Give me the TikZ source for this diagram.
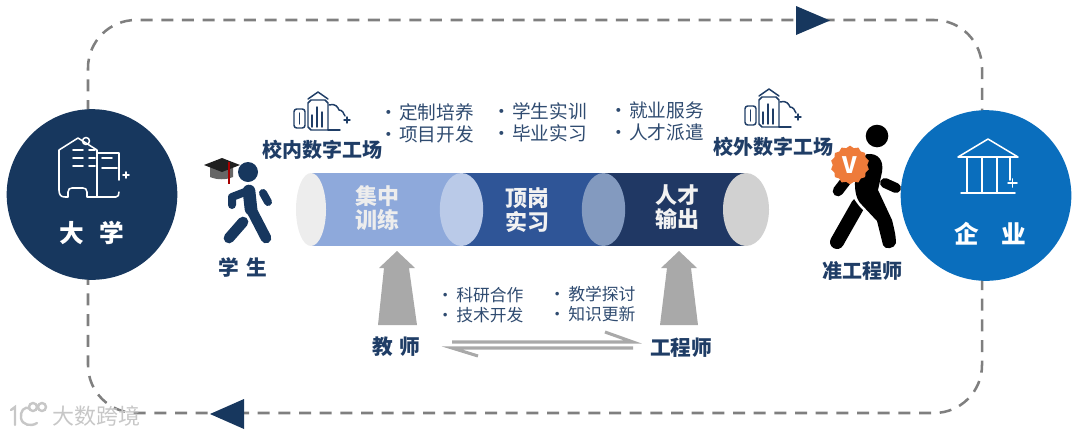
\documentclass[tikz,border=0pt]{standalone}
\usepackage{fontspec}
\setmainfont{Noto Sans CJK SC}
\usetikzlibrary{shapes.geometric}
\definecolor{navy}{HTML}{17375E}
\definecolor{bizblue}{HTML}{0A6EBD}
\definecolor{labelblue}{HTML}{1F3D66}
\definecolor{itemblue}{HTML}{2F4B70}
\definecolor{arrowgrey}{HTML}{A9A9A9}
\definecolor{dashgrey}{HTML}{7F7F7F}
\definecolor{segone}{HTML}{8EA9DB}
\definecolor{segtwo}{HTML}{2F5597}
\definecolor{segthree}{HTML}{203864}
\definecolor{captwo}{HTML}{BACAE8}
\definecolor{capthree}{HTML}{839ABF}
\definecolor{badgeorange}{HTML}{EE7B3A}
\newcommand{\fsz}[1]{\fontsize{#1}{#1}\selectfont}
\newcommand{\itm}[1]{\makebox[10.5pt][l]{\hspace{-4pt}•}#1}
\newcommand{\dataicon}[2]{%
  \begin{scope}[shift={(#1,#2)}, iconline]
    \draw (308,99) -- (318,92) -- (328,99);
    \draw (328,130) -- (311,130) -- (308,127) -- (308,103) -- (311,100) -- (325,100) -- (328,103) -- (328,130);
    \draw[rounded corners=2pt] (294,109) rectangle (305,128);
    \draw (299.5,113) -- (299.5,124);
    \draw (312,115) -- (312,127);
    \draw (317,107) -- (317,127);
    \draw (322,112) -- (322,127);
    \draw (329,105) .. controls (335,103) and (338,107) .. (339,110) .. controls (342,110) and (344,113) .. (345,116);
    \draw (328,130) -- (340,130);
    \draw (344,120) -- (350,120) (347,117) -- (347,123);
  \end{scope}}
\begin{document}
\begin{tikzpicture}[
  x=0.75pt, y=-0.75pt,
  round/.style={circle, fill=#1, minimum size=128pt, inner sep=0pt, outer sep=0pt},
  cap/.style={ellipse, fill=#1, minimum height=54.75pt, inner sep=0pt, outer sep=0pt},
  loopline/.style={dashgrey, line width=1.9pt, dash pattern=on 9pt off 6.5pt, rounded corners=36pt},
  title/.style={font=\bfseries\fsz{15}, text=labelblue, inner sep=0pt},
  items/.style={font=\fsz{14}, text=itemblue, align=left, anchor=west, inner sep=0pt},
  smallitems/.style={font=\fsz{12.6}, text=itemblue, align=left, anchor=west, inner sep=0pt},
  tubetext/.style={font=\bfseries\fsz{16.5}, align=center, inner sep=0pt},
  circtext/.style={font=\bfseries\fsz{18.5}, text=white, inner sep=0pt},
  iconline/.style={labelblue, line width=1.1pt, line cap=round, line join=round},
  whiteline/.style={white, line width=1.15pt, line cap=round, line join=round},
  harp/.style={arrowgrey, line width=2.3pt, line join=miter},
  limb/.style={line cap=round, line join=round}
]
\useasboundingbox (0,0) rectangle (1080,436);

\coordinate (ltop) at (88,112);
\coordinate (lbot) at (88,278);
\coordinate (rtop) at (982,112);
\coordinate (rbot) at (982,278);
\draw[loopline] (ltop) -- (88,20) -- (982,20) -- (rtop);
\draw[loopline] (rbot) -- (982,413) -- (88,413) -- (lbot);
\fill[navy] (796,6) -- (830,20.5) -- (796,35) -- cycle;
\fill[navy] (210,414) -- (244,399) -- (244,429) -- cycle;

\node[round=navy] (univ) at (92,194.5) {};
\node[round=bizblue] (ent) at (986,195.5) {};
\node[circtext] (univtext) at (92,233) {大\hspace{0.65em}学};
\node[circtext] (enttext) at (990,234) {企\hspace{0.9em}业};

\begin{scope}[whiteline]
  \draw (59,190) -- (59,150) -- (78,138) -- (97,150) -- (97,197);
  \draw (59,190) .. controls (59,195) and (61,197) .. (65,197) -- (68,197) -- (68,192) .. controls (68,189) and (70,188) .. (72,188) -- (83,188) .. controls (85,188) and (87,189) .. (87,192) -- (87,197) -- (116,197) .. controls (118,197) and (119,195) .. (119,192);
  \draw (86,141) circle (3.5);
  \draw (97,153) -- (119,153) -- (119,180);
  \draw (73,150) -- (83,150) (89,150) -- (95,150);
  \draw (73,158) -- (83,158) (89,158) -- (95,158);
  \draw (73,166) -- (83,166) (89,166) -- (95,166);
  \draw (102,158) -- (112,158) (102,168) -- (117,168);
  \draw (123,175) -- (129,175) (126,172) -- (126,178);
  \draw (958,157) -- (988,139) -- (1018,157) -- cycle;
  \draw (967,157) -- (967,192) (982,157) -- (982,192) (997,157) -- (997,192);
  \draw (1010,157) -- (1010,180);
  \draw (961,193) -- (1015,193);
  \draw (1008,183) -- (1017,183) (1012.5,179) -- (1012.5,187);
\end{scope}

\dataicon{0}{0}
\dataicon{451}{-3}
\node[title] (campus) at (322,150) {校内数字工场};
\node[title] (outside) at (773,147) {校外数字工场};
\node[items] (train) at (385,123) {\itm{定制培养}\\[2.5pt]\itm{项目开发}};
\node[items] (intern) at (498,122) {\itm{学生实训}\\[2.5pt]\itm{毕业实习}};
\node[items] (jobs) at (615,121) {\itm{就业服务}\\[2.5pt]\itm{人才派遣}};

\fill[navy] (248,172) circle (10);
\draw[navy, limb, line width=9.5pt] (249,191) -- (251,209);
\draw[navy, limb, line width=8pt] (251,209) -- (266,238);
\draw[navy, line cap=round, line width=8pt] (243,222) -- (229,238);
\draw[navy, limb, line width=6pt] (245,192) -- (232,197) -- (232,205);
\draw[navy, limb, line width=6pt] (263,193) -- (268,202);
\fill[black!60] (210,166) -- (233,166) -- (233,177) .. controls (226,180) and (217,180) .. (210,177) -- cycle;
\fill[black!88] (204,165) -- (222,158) -- (240,165) -- (222,172) -- cycle;
\draw[red!65!black, line width=1pt] (229,162) -- (229,184);
\node[title, font=\bfseries\fsz{15.5}] (student) at (243,267) {学\hspace{0.35em}生};

\fill[black] (877,136) circle (11.3);
\draw[black, limb, line width=10.5pt] (858,205) -- (837,242);
\draw[white, line width=4pt] (852,190) .. controls (856,197) and (860,204) .. (866,209);
\fill[black] (867,154) .. controls (878,153) and (884,160) .. (882,172) -- (878,190) -- (892,220) .. controls (894,228) and (896,236) .. (896,243) .. controls (895,249) and (884,250) .. (883,245) -- (877,221) -- (862,205) .. controls (851,196) and (853,165) .. (867,154) -- cycle;
\draw[black, limb, line width=7.5pt] (885,183) -- (896,188);
\draw[black, limb, line width=8pt] (838,191) -- (848,178);
\node[star, star points=14, star point ratio=1.12, fill=badgeorange, minimum size=29pt, inner sep=0pt, text=white, font=\bfseries\fsz{17}] (badge) at (850,165) {V};
\node[title] (preeng) at (862,271) {准工程师};

\fill[segone] (311,173) rectangle (461.5,246);
\fill[segtwo] (461.5,173) rectangle (603.5,246);
\fill[segthree] (603.5,173) rectangle (746,246);
\node[cap={black!7}, minimum width=22.5pt] (capa) at (311,209.5) {};
\node[cap=captwo, minimum width=32.5pt] (capb) at (461.5,209.5) {};
\node[cap=capthree, minimum width=32.5pt] (capc) at (603.5,209.5) {};
\node[cap={black!18}, minimum width=34.5pt] (capd) at (746,209.5) {};
\node[tubetext, text=white!93!black] (stage) at (377,208) {集中\\[2pt]训练};
\node[tubetext, text=white!95!black] (post) at (527,210) {顶岗\\[2pt]实习};
\node[tubetext, text=white!95!black] (talent) at (677,207) {人才\\[2pt]输出};

\fill[arrowgrey] (397,251) -- (415,268) -- (409,268) -- (417,325) -- (378,325) -- (384,268) -- (379,268) -- cycle;
\fill[arrowgrey] (679,251) -- (697,268) -- (691,268) -- (698,325) -- (660,325) -- (667,268) -- (661,268) -- cycle;

\node[title, font=\bfseries\fsz{15.5}] (teacher) at (396,347) {教\hspace{0.3em}师};
\node[title, font=\bfseries\fsz{15.5}] (engineer) at (681,348) {工程师};
\node[smallitems] (research) at (442,305) {\itm{科研合作}\\[2.4pt]\itm{技术开发}};
\node[smallitems] (teach) at (554,304) {\itm{教学探讨}\\[2.4pt]\itm{知识更新}};

\coordinate (hleft) at (452,342);
\coordinate (hright) at (633,342);
\coordinate (kleft) at (452,348);
\coordinate (kright) at (633,348);
\draw[harp] (hleft) -- (hright) -- (605,332);
\draw[harp] (kright) -- (kleft) -- (478,356);

\node[font=\fsz{16.5}, text=black!22, inner sep=0pt] (mark) at (96,416) {大数跨境};
\begin{scope}[black!22, line width=1.8pt, line cap=round]
  \draw (11,410) -- (15,407) -- (15,425);
  \draw (30,409) .. controls (24,405) and (20,412) .. (21,418) .. controls (22,425) and (31,427) .. (37,423);
  \draw (33,407) circle (4) (42,407) circle (4);
\end{scope}
\end{tikzpicture}
\end{document}
